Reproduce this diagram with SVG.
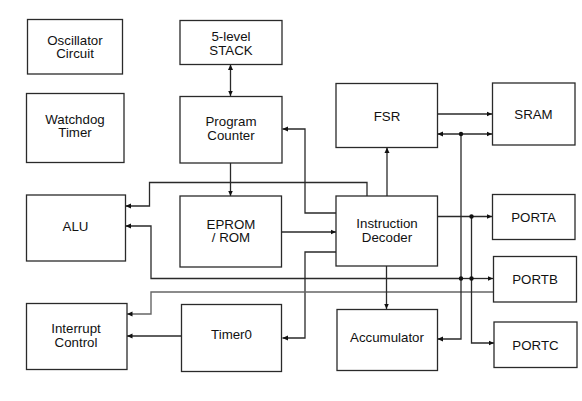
<svg xmlns="http://www.w3.org/2000/svg" width="582" height="401" viewBox="0 0 582 401">
<style>
.box{fill:#fff;stroke:#2a2a2a;stroke-width:1.3}
.t{font-family:"Liberation Sans",Arial,sans-serif;font-size:13.3px;fill:#111;text-anchor:middle}
.c{fill:none;stroke:#2a2a2a;stroke-width:1.3}
.g{fill:none;stroke:#666;stroke-width:1.4}
.dot{fill:#111}
</style>
<defs>
<marker id="ah" markerUnits="userSpaceOnUse" markerWidth="6" markerHeight="6" refX="5.5" refY="3" orient="auto-start-reverse">
<path d="M0,0.5 L5.5,3 L0,5.5 z" fill="#111"/>
</marker>
</defs>
<rect width="582" height="401" fill="#fff"/>
<g id="connectors">
<path class="c" d="M230.5,64.5 V96" marker-start="url(#ah)" marker-end="url(#ah)"/>
<path class="c" d="M230.5,163 V196" marker-end="url(#ah)"/>
<path class="c" d="M367,196 V182.5 H149.5 V206 H125.5" marker-end="url(#ah)"/>
<path class="c" d="M461,278.5 H151 V226 H125.5" marker-end="url(#ah)"/>
<path class="c" d="M336,213 H305 V129 H282.5" marker-end="url(#ah)"/>
<path class="c" d="M282,232 H336" marker-end="url(#ah)"/>
<path class="c" d="M336,252 H305 V338 H282.5" marker-end="url(#ah)"/>
<path class="c" d="M181,336 H127" marker-end="url(#ah)"/>
<path class="g" d="M493,292 H151 V314 H127" marker-end="url(#ah)"/>
<path class="c" d="M387,196 V147.5" marker-end="url(#ah)"/>
<path class="c" d="M437.5,114 H492" marker-end="url(#ah)"/>
<path class="c" d="M437.5,134 H492" marker-start="url(#ah)" marker-end="url(#ah)"/>
<path class="c" d="M461,134 V339 H437.5" marker-end="url(#ah)"/>
<path class="c" d="M437.5,216.5 H492" marker-end="url(#ah)"/>
<path class="c" d="M471.5,216.5 V343 H494" marker-end="url(#ah)"/>
<path class="c" d="M461,278.5 H493" marker-end="url(#ah)"/>
<path class="c" d="M386.5,266 V309" marker-end="url(#ah)"/>
<circle class="dot" cx="461" cy="134" r="2.2"/>
<circle class="dot" cx="461" cy="278.5" r="2.2"/>
<circle class="dot" cx="471.5" cy="216.5" r="2.2"/>
<circle class="dot" cx="471.5" cy="278.5" r="2.2"/>
</g>
<g id="oscillator">
<rect class="box" x="27.5" y="19.5" width="95" height="54.5"/>
<text class="t" x="75" y="44.5">Oscillator</text>
<text class="t" x="75" y="58">Circuit</text>
</g>
<g id="stack">
<rect class="box" x="180" y="20.5" width="102" height="44"/>
<text class="t" x="231" y="41">5-level</text>
<text class="t" x="231" y="54.5">STACK</text>
</g>
<g id="watchdog">
<rect class="box" x="26.5" y="93.5" width="97.5" height="69"/>
<text class="t" x="75" y="123.5">Watchdog</text>
<text class="t" x="75" y="137">Timer</text>
</g>
<g id="pc">
<rect class="box" x="180" y="96.5" width="102" height="66.5"/>
<text class="t" x="231" y="126">Program</text>
<text class="t" x="231" y="139.5">Counter</text>
</g>
<g id="fsr">
<rect class="box" x="336" y="83.5" width="101.5" height="64"/>
<text class="t" x="387" y="121">FSR</text>
</g>
<g id="sram">
<rect class="box" x="492.5" y="83" width="82.5" height="62"/>
<text class="t" x="533.5" y="118.5">SRAM</text>
</g>
<g id="alu">
<rect class="box" x="26.5" y="195" width="99" height="66"/>
<text class="t" x="75.5" y="231">ALU</text>
</g>
<g id="eprom">
<rect class="box" x="180" y="196" width="101.5" height="71"/>
<text class="t" x="231" y="228.5">EPROM</text>
<text class="t" x="231" y="242">/ ROM</text>
</g>
<g id="decoder">
<rect class="box" x="336" y="196" width="101.5" height="70"/>
<text class="t" x="387" y="228">Instruction</text>
<text class="t" x="387" y="242">Decoder</text>
</g>
<g id="porta">
<rect class="box" x="492.5" y="194.5" width="82.5" height="45"/>
<text class="t" x="533.5" y="222">PORTA</text>
</g>
<g id="portb">
<rect class="box" x="493.5" y="256.5" width="83" height="45.5"/>
<text class="t" x="535" y="284">PORTB</text>
</g>
<g id="interrupt">
<rect class="box" x="26.5" y="303.5" width="100.5" height="66"/>
<text class="t" x="76" y="332.5">Interrupt</text>
<text class="t" x="76" y="347">Control</text>
</g>
<g id="timer0">
<rect class="box" x="181.5" y="304.5" width="100" height="67"/>
<text class="t" x="231.5" y="339">Timer0</text>
</g>
<g id="accumulator">
<rect class="box" x="337" y="309.5" width="100.5" height="61"/>
<text class="t" x="387" y="341.5">Accumulator</text>
</g>
<g id="portc">
<rect class="box" x="494" y="322" width="83" height="45.5"/>
<text class="t" x="535.5" y="350">PORTC</text>
</g>
</svg>
